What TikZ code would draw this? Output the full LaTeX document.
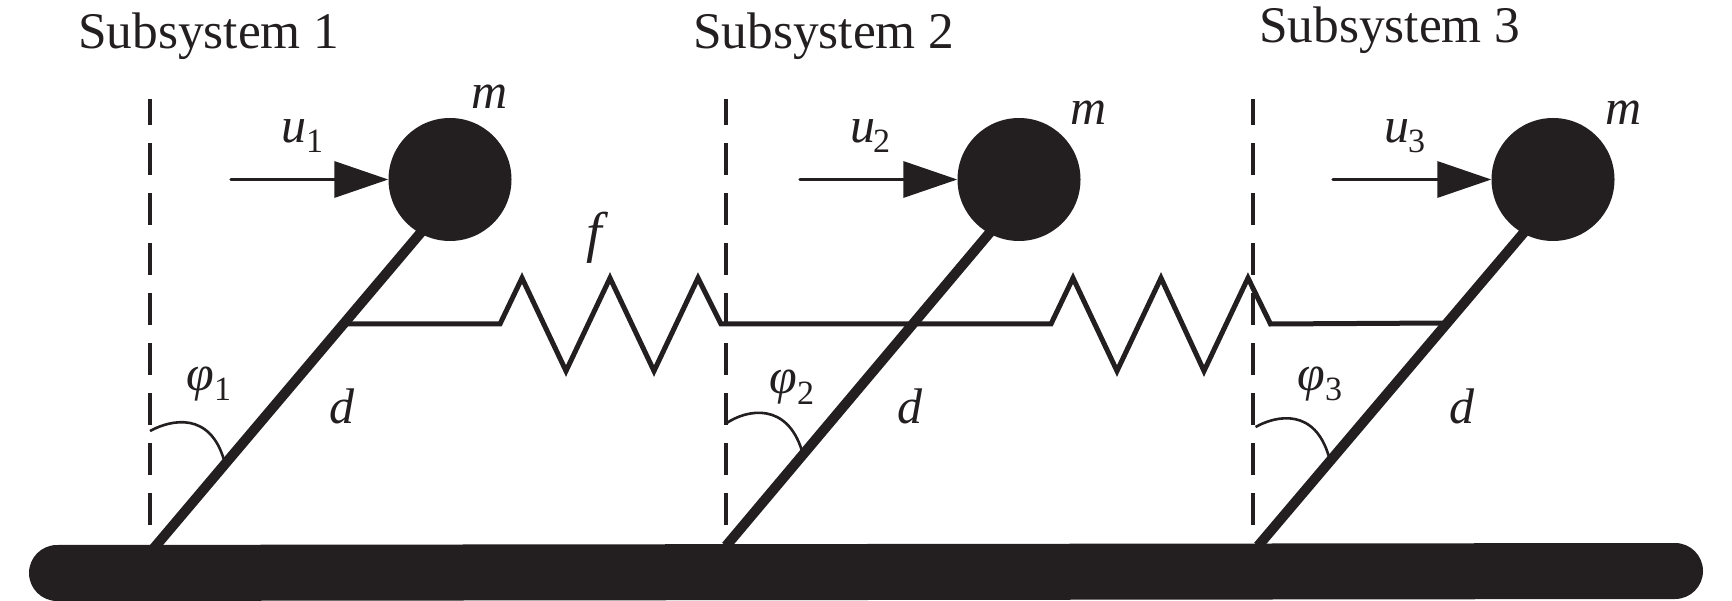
\documentclass[tikz,border=0pt]{standalone}
\usepackage{fontspec}
\setmainfont{Liberation Serif}
\usetikzlibrary{arrows.meta}
\definecolor{ink}{HTML}{231F20}
\tikzset{
  every picture/.style={x=1pt,y=-1pt},
  title/.style={anchor=base west,inner sep=0pt,text=ink,font=\fontsize{51.4}{62}\selectfont},
  var/.style={anchor=base west,inner sep=0pt,text=ink,font=\fontsize{50}{60}\selectfont\itshape},
  subs/.style={anchor=base west,inner sep=0pt,text=ink,font=\fontsize{34}{40}\selectfont},
  ball/.style={circle,fill=ink,draw=none,inner sep=0pt,minimum size=123pt},
  rod/.style={draw=ink,line width=10pt,shorten >=-3pt},
  guide/.style={draw=ink,line width=3.4pt,dash pattern=on 32pt off 18pt},
  springline/.style={draw=ink,line width=5pt,miter limit=10},
  force/.style={draw=ink,line width=3.4pt,line cap=round,-{Triangle[length=54pt,width=36pt,fill=ink]}},
  angarc/.style={draw=ink,line width=2.6pt},
}
\begin{document}
\begin{tikzpicture}
\useasboundingbox (0,0) rectangle (1732,601);
% named points
\coordinate (g1) at (154,548); \coordinate (g2) at (726,546); \coordinate (g3) at (1258,546);
\coordinate (gl) at (57,573); \coordinate (gr) at (1675,571);
\node[ball] (ball1) at (450,179.5) {};
\node[ball] (ball2) at (1019,179.5) {};
\node[ball] (ball3) at (1553,179.5) {};
\coordinate (f1) at (231,179.5); \coordinate (f2) at (800,179.5); \coordinate (f3) at (1333,179.5);
\foreach \x/\n in {150/1,726/2,1253/3}{
  \coordinate (db\n) at (\x,525); \coordinate (dt\n) at (\x,99);
  \draw[guide] (db\n) -- (dt\n);
}
% ground
\draw[draw=ink,line width=56pt,line cap=round] (gl) -- (gr);
% rods
\draw[rod] (g1) -- (ball1.241);
\draw[rod] (g2) -- (ball2.241);
\draw[rod] (g3) -- (ball3.241);
% springs
\coordinate (s0) at (347,324); \coordinate (s9) at (1443,323);
\draw[springline] (s0) -- (500,324) -- (522,278) -- (566,371) -- (610,278) -- (654,371) -- (698,278) -- (721,324)
  -- (1051,324) -- (1073,278) -- (1117,371) -- (1161,278) -- (1204,371) -- (1248,278) -- (1270.5,324) -- (s9);
% forces
\draw[force] (f1) -- (ball1.west);
\draw[force] (f2) -- (ball2.west);
\draw[force] (f3) -- (ball3.west);
% angle arcs
\coordinate (a1) at (150,431); \coordinate (b1) at (224,460);
\coordinate (a2) at (726,423.5); \coordinate (b2) at (802,451);
\coordinate (a3) at (1255.5,427); \coordinate (b3) at (1329,457);
\draw[angarc] (a1) .. controls (172,419) and (210,412) .. (b1);
\draw[angarc] (a2) .. controls (747,409) and (787,402) .. (b2);
\draw[angarc] (a3) .. controls (1277,415) and (1315,408) .. (b3);
% texts
\node[title] (t1) at (78,49) {Subsystem 1};
\node[title] (t2) at (693,49) {Subsystem 2};
\node[title] (t3) at (1259,43) {Subsystem 3};
\node[var] (m1) at (471,108.5) {m};
\node[var] (m2) at (1070,124.5) {m};
\node[var] (m3) at (1605,124.5) {m};
\node[var] (u1) at (281,143) {u};
\node[subs] (us1) at (306,152.5) {1};
\node[var] (u2) at (850,143) {u};
\node[subs] (us2) at (873,152.5) {2};
\node[var] (u3) at (1384,143) {u};
\node[subs] (us3) at (1408,152.5) {3};
\node[var,font=\fontsize{56}{60}\selectfont\itshape] (ff) at (586,252) {f};
\node[var] (d1) at (329,423.5) {d};
\node[var] (d2) at (897,423.5) {d};
\node[var] (d3) at (1449,423.5) {d};
\node[var] (p1) at (186,391) {φ};
\node[subs] (ps1) at (214,401) {1};
\node[var] (p2) at (769,394) {φ};
\node[subs] (ps2) at (797,404) {2};
\node[var] (p3) at (1297,391) {φ};
\node[subs] (ps3) at (1325,401) {3};
\end{tikzpicture}
\end{document}
